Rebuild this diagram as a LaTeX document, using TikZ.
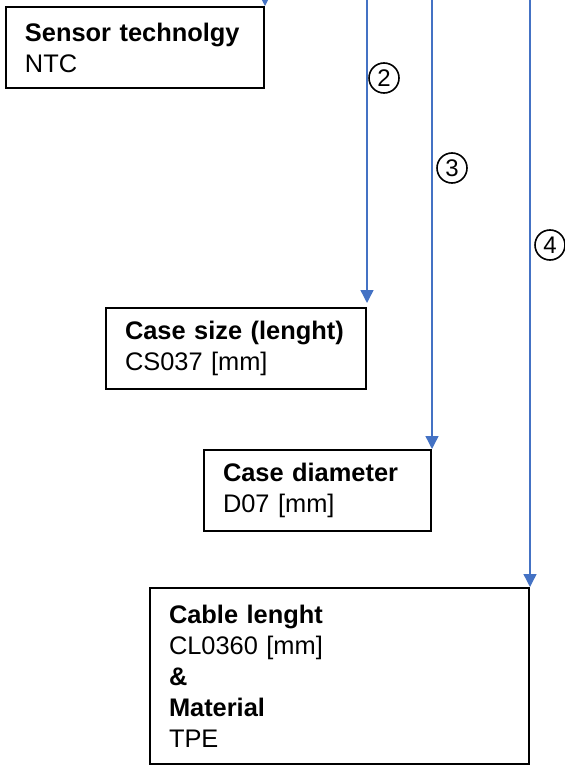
\documentclass[tikz,border=0pt]{standalone}
\usepackage{fontspec}
\setmainfont{Liberation Sans}
\usetikzlibrary{arrows.meta}
\definecolor{arrowblue}{RGB}{68,114,196}

\tikzset{
  infobox/.style={draw, line width=1pt, anchor=north west, align=left,
    inner xsep=9.5pt, inner ysep=0pt, font=\fontsize{12.7}{15.5}\selectfont},
  feed/.style={draw=arrowblue, line width=0.7pt, -{Triangle[length=6.5pt,width=6.5pt]}},
  stepno/.style={circle, draw, line width=0.8pt, minimum size=15pt, inner sep=0pt,
    font=\fontsize{12}{12}\selectfont}
}

\begin{document}
\begin{tikzpicture}[x=0.5pt,y=-0.5pt]
\useasboundingbox (0,0) rectangle (565,765);
\coordinate (top) at (0,-10);
\node (sensor) at (5,6) [infobox, text width=110pt, minimum height=40.5pt] {\textbf{Sensor technolgy}\\NTC};
\node (casesize) at (105,307) [infobox, text width=111pt, minimum height=40.5pt] {\textbf{Case size (lenght)}\\CS037 [mm]};
\node (casedia) at (203,449) [infobox, text width=94.5pt, minimum height=40.5pt] {\textbf{Case diameter}\\D07 [mm]};
\node (cable) at (149,587) [infobox, text width=170.5pt, minimum height=88pt] {\textbf{Cable lenght}\\CL0360 [mm]\\\textbf{\&}\\\textbf{Material}\\TPE};
\draw[feed] (top -| sensor.north east) -- (sensor.north east);
\draw[feed] (top -| casesize.north east) -- ([yshift=2pt]casesize.north east);
\draw[feed] (top -| casedia.north east) -- (casedia.north east);
\draw[feed] (top -| cable.north east) -- (cable.north east);
\node (no2) at (384,78) [stepno] {2};
\node (no3) at (452,168) [stepno] {3};
\node (no4) at (550,245) [stepno] {4};
\end{tikzpicture}
\end{document}
